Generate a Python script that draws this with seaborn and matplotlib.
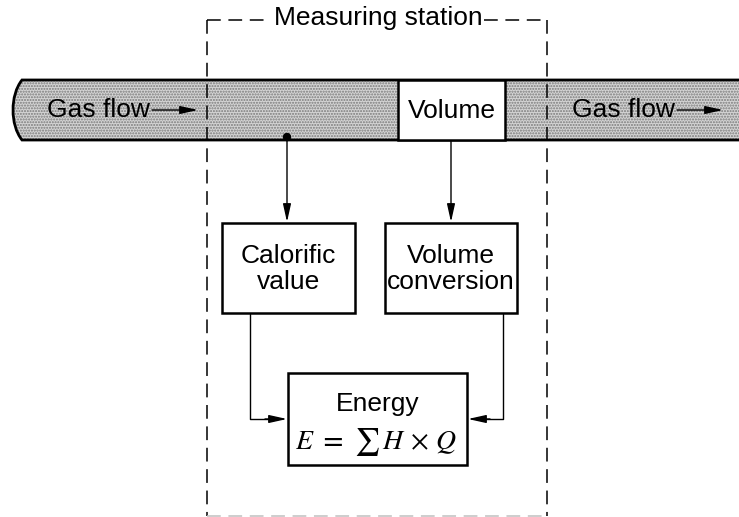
import matplotlib
matplotlib.use("Agg")
import matplotlib.pyplot as plt
import seaborn as sns
from matplotlib.patches import Rectangle, PathPatch, Circle
from matplotlib.path import Path

# --- Labels ---
STATION_TITLE = "Measuring station"
FLOW_LABEL = "Gas flow"
BOX_NAMES = ["volume", "calorific", "conversion", "energy"]
BOX_TEXTS = ["Volume", "Calorific\nvalue", "Volume\nconversion", "Energy"]
FORMULA = r"$E\ \mathbf{=}\ \sum\, H\,\times\,Q$"

# --- Layout (pixel coords, y down) ---
W, H = 739, 517
PIPE_TOP, PIPE_BOT = 80, 140
STATION = (207, 20, 547, 516)
BOXES = {
    "volume": (398, 80, 505, 140),
    "calorific": (222, 223, 355, 313),
    "conversion": (385, 223, 517, 313),
    "energy": (288, 373, 467, 465),
}

sns.set_theme(style="white")
plt.rcParams['font.family'] = ['Liberation Sans', 'DejaVu Sans']
plt.rcParams['mathtext.fontset'] = 'stix'
plt.rcParams['text.color'] = 'black'

fig = plt.figure(figsize=(W / 100, H / 100), dpi=100)
ax = fig.add_axes([0, 0, 1, 1])
ax.set_xlim(0, W)
ax.set_ylim(H, 0)
ax.axis('off')

FS = 19

# pipe
verts = [(W + 5, PIPE_TOP), (22, PIPE_TOP), (10, PIPE_TOP + 15), (10, PIPE_BOT - 15),
         (22, PIPE_BOT), (W + 5, PIPE_BOT), (W + 5, PIPE_TOP)]
codes = [Path.MOVETO, Path.LINETO, Path.CURVE4, Path.CURVE4, Path.CURVE4, Path.LINETO, Path.CLOSEPOLY]
pipe = Path(verts, codes)
ax.add_patch(PathPatch(pipe, facecolor='#d4d4d4', edgecolor='#7a7a7a', hatch='......', lw=0, zorder=1))
ax.add_patch(PathPatch(pipe, facecolor='none', edgecolor='black', lw=2.0, zorder=3))

# boxes
for name, txt in zip(BOX_NAMES, BOX_TEXTS):
    x0, y0, x1, y1 = BOXES[name]
    ax.add_patch(Rectangle((x0, y0), x1 - x0, y1 - y0, facecolor='white',
                           edgecolor='black', lw=1.8, zorder=4))
    cx = (x0 + x1) / 2
    if name == "energy":
        ax.text(cx, 404, txt, ha='center', va='center', fontsize=FS, zorder=5)
        ax.text(cx - 2, 442, FORMULA, ha='center', va='center', fontsize=20, zorder=5)
    else:
        ax.text(cx, (y0 + y1) / 2 + 1, txt, ha='center', va='center', fontsize=FS,
                linespacing=1.1, zorder=5)

# station dashed frame
sx0, sy0, sx1, sy1 = STATION
dash = dict(color='black', lw=1.1, linestyle=(0, (9, 5)), zorder=6)
ax.plot([sx0, sx0], [sy0, sy1], **dash)
ax.plot([sx1, sx1], [sy0, sy1], **dash)
ax.plot([sx0, 267], [sy0, sy0], **dash)
ax.plot([484, sx1], [sy0, sy0], **dash)
ax.plot([sx0, sx1], [sy1, sy1], color='#c0c0c0', lw=1.1, linestyle=(0, (9, 5)), zorder=6)
ax.text((sx0 + sx1) / 2 + 1, 18, STATION_TITLE, ha='center', va='center', fontsize=FS, zorder=6)

# gas flow labels with arrows
arr = dict(arrowstyle='-|>,head_length=0.9,head_width=0.2', color='black', lw=1.0,
           shrinkA=0, shrinkB=0)
for tx, a0, a1 in [(47, 152, 198), (572, 677, 723)]:
    ax.text(tx, 110, FLOW_LABEL, ha='left', va='center', fontsize=FS, zorder=5)
    ax.annotate('', xy=(a1, 110), xytext=(a0, 110), arrowprops=arr, zorder=5)

# dot and vertical connectors
ax.add_patch(Circle((287, 137), 3.5, color='black', zorder=5))
ax.annotate('', xy=(287, 222), xytext=(287, 137), arrowprops=arr, zorder=5)
ax.annotate('', xy=(451, 222), xytext=(451, 141), arrowprops=arr, zorder=5)

# elbow connectors to energy box
ax.plot([250, 250, 270], [314, 419, 419], color='black', lw=1.0, zorder=5)
ax.annotate('', xy=(287, 419), xytext=(265, 419), arrowprops=arr, zorder=5)
ax.plot([503, 503, 485], [314, 419, 419], color='black', lw=1.0, zorder=5)
ax.annotate('', xy=(468, 419), xytext=(490, 419), arrowprops=arr, zorder=5)

fig.savefig("out.png", dpi=100, facecolor='white')
